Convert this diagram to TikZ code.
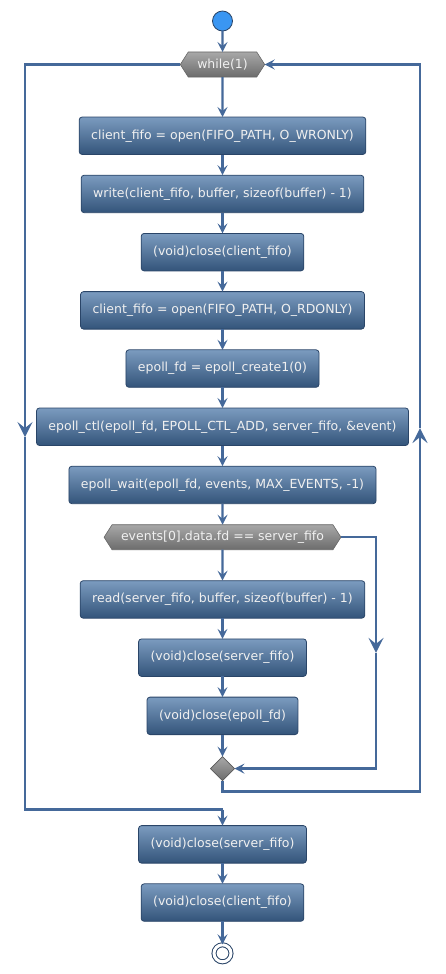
\documentclass[tikz,border=0pt]{standalone}
\usepackage{fontspec}
\newfontfamily\umlfont{DejaVu Sans}
\usetikzlibrary{positioning,calc,shapes.geometric,shapes.symbols,arrows.meta}

\definecolor{boxtop}{HTML}{7B9BBF}
\definecolor{boxbot}{HTML}{33547A}
\definecolor{boxline}{HTML}{2A4568}
\definecolor{flowcol}{HTML}{45699A}
\definecolor{startcol}{HTML}{3A96F2}
\definecolor{condtop}{HTML}{A8A8A8}
\definecolor{condbot}{HTML}{6C6C6C}

\tikzset{
  box/.style={rectangle, rounded corners=3pt, draw=boxline, line width=0.8pt,
    top color=boxtop, bottom color=boxbot, text=white!94!black, outer sep=0pt,
    font=\umlfont\fontsize{12.5}{14}\selectfont, minimum height=37.5pt, inner xsep=12pt},
  cond/.style={signal, signal to=west and east, signal pointer angle=115,
    draw=gray!80!black, line width=0.6pt, top color=condtop, bottom color=condbot,
    text=white!94!black, font=\umlfont\fontsize{12.5}{14}\selectfont, outer sep=0pt,
    minimum height=25pt, inner xsep=9pt, inner ysep=2pt},
  merge/.style={diamond, draw=gray!70!black, line width=0.6pt, top color=condtop,
    bottom color=condbot, minimum size=24pt, inner sep=0pt, outer sep=0pt},
  flow/.style={draw=flowcol, line width=2.4pt, -{Stealth[length=10pt,width=10pt,inset=4pt]}},
  flowbig/.style={draw=flowcol, line width=2.4pt, -{Stealth[length=15pt,width=15pt,inset=6pt]}},
  line/.style={draw=flowcol, line width=2.4pt}
}

\begin{document}
\begin{tikzpicture}[x=1pt,y=-1pt]
\useasboundingbox (0,0) rectangle (446,974);

% Nodes
\node[circle, fill=startcol, draw=boxline, line width=0.8pt, minimum size=20pt, inner sep=0pt, outer sep=0pt] (start) at (222.5,21) {};
\node[cond, below=21pt of start] (while) {while(1)};
\node[box, below=40pt of while] (openwr) {client\_fifo = open(FIFO\_PATH, O\_WRONLY)};
\node[box, below=20.7pt of openwr] (write) {write(client\_fifo, buffer, sizeof(buffer) - 1)};
\node[box, below=20.7pt of write] (closecli) {(void)close(client\_fifo)};
\node[box, below=20.7pt of closecli] (openrd) {client\_fifo = open(FIFO\_PATH, O\_RDONLY)};
\node[box, below=20.7pt of openrd] (create) {epoll\_fd = epoll\_create1(0)};
\node[box, below=20.7pt of create] (ctl) {epoll\_ctl(epoll\_fd, EPOLL\_CTL\_ADD, server\_fifo, \&event)};
\node[box, below=20.7pt of ctl] (wait) {epoll\_wait(epoll\_fd, events, MAX\_EVENTS, -1)};
\node[cond, below=21pt of wait] (test) {events[0].data.fd == server\_fifo};
\node[box, below=31pt of test] (read) {read(server\_fifo, buffer, sizeof(buffer) - 1)};
\node[box, below=20.7pt of read] (closesrv) {(void)close(server\_fifo)};
\node[box, below=20.7pt of closesrv] (closeep) {(void)close(epoll\_fd)};
\node[merge, below=22pt of closeep] (join) {};

% loop corners
\coordinate (lx) at (25,0);
\coordinate (rx) at (420,0);
\coordinate (bx) at (376,0);
\coordinate[below=11pt of join.south] (rb);
\coordinate[below=18pt of rb] (lb);

\node[box, below=16pt of lb] (closesrv2) {(void)close(server\_fifo)};
\node[box, below=20.7pt of closesrv2] (closecli2) {(void)close(client\_fifo)};
\node[circle, draw=boxline, line width=1pt, double=white, double distance=3pt,
  minimum size=17pt, inner sep=0pt, below=23pt of closecli2] (stop) {};

% Connect nodes
\foreach \a/\b in {start/while, while/openwr, openwr/write, write/closecli,
  closecli/openrd, openrd/create, create/ctl, ctl/wait, wait/test, test/read,
  read/closesrv, closesrv/closeep, closeep/join, closesrv2/closecli2, closecli2/stop}
  \draw[flow] (\a) -- (\b);

% if branch
\draw[flowbig] (test.east) -| ($(bx |- test.east)!0.5!(bx |- join)$) coordinate (bmid);
\draw[flow] (bmid) |- (join.east);

% loop back
\draw[flowbig] (join.south) -- (rb) -- (rx |- rb) -- ($(rx |- rb)!0.5!(rx |- while)$) coordinate (rmid);
\draw[flow] (rmid) -- (rx |- while) -- (while.east);

% loop exit
\draw[flowbig] (while.west) -| ($(lx |- while)!0.5!(lx |- lb)$) coordinate (lmid);
\draw[line] (lmid) |- (lb);
\draw[flow] (lb) -- (closesrv2);

\end{tikzpicture}
\end{document}
